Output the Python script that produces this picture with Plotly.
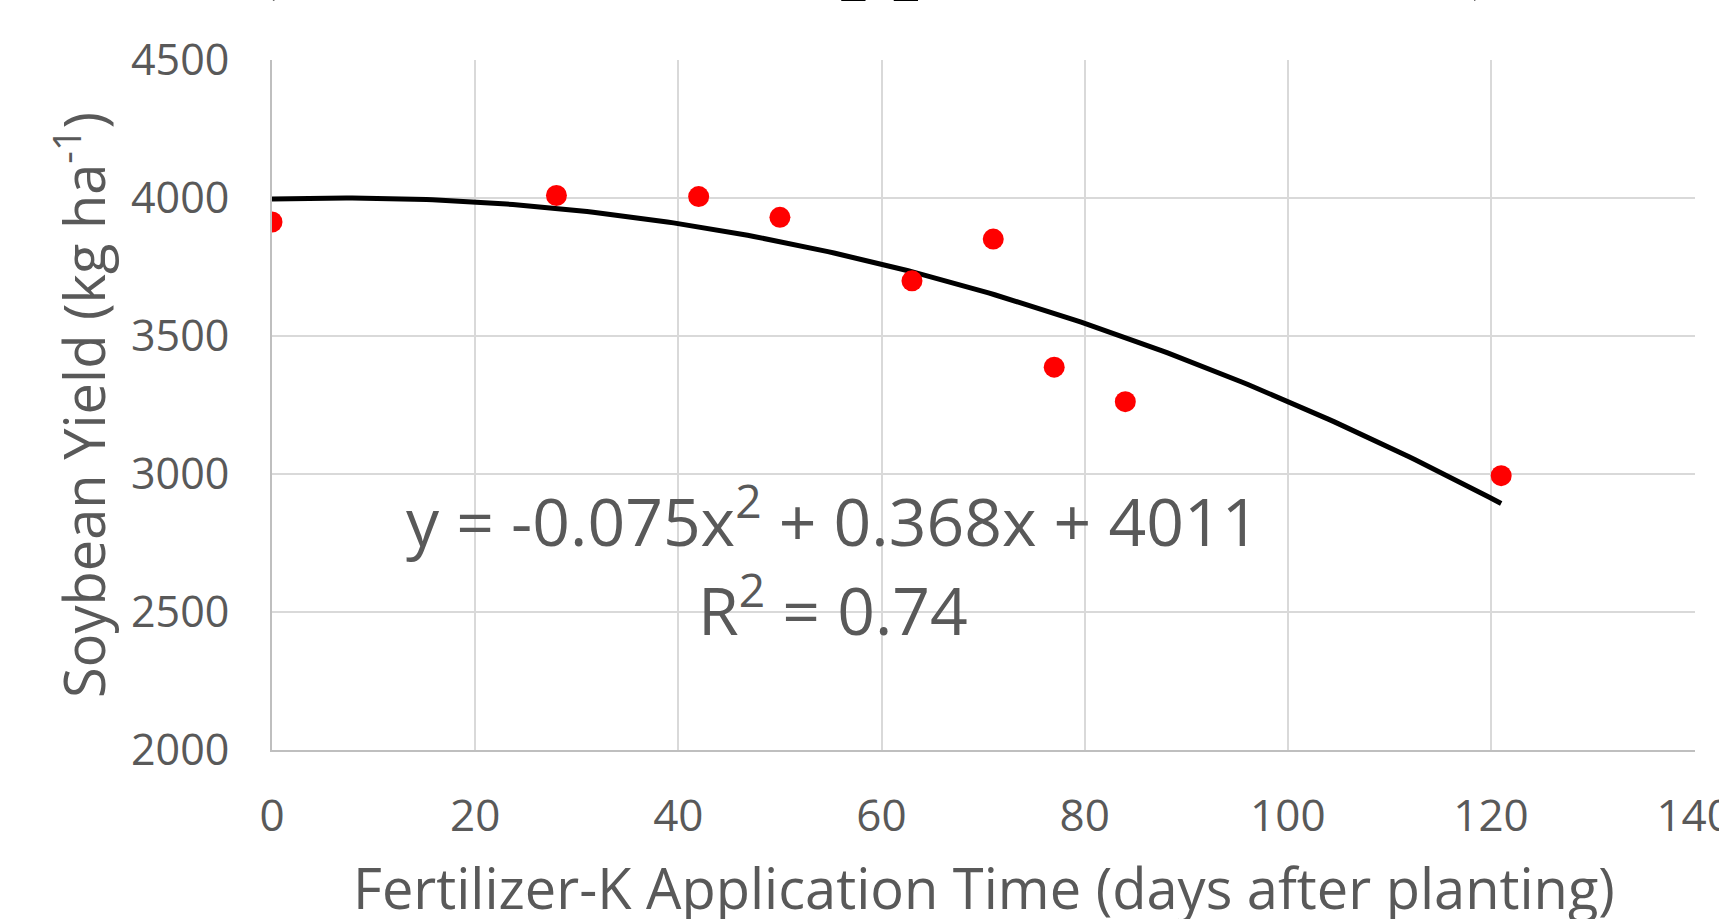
import numpy as np
import plotly.graph_objects as go

# Data
days = [0, 28, 42, 50, 63, 71, 77, 84, 121]
yield_kg = [3913, 4009, 4005, 3930, 3700, 3851, 3387, 3262, 2994]

x_ticks = [0, 20, 40, 60, 80, 100, 120, 140]
y_ticks = [2000, 2500, 3000, 3500, 4000, 4500]

equation_text = "y = -0.075x<sup>2</sup> + 0.368x + 4011"
r2_text = "R<sup>2</sup> = 0.74"
x_title = "Fertilizer-K Application Time (days after planting)"
y_title = "Soybean Yield (kg ha<sup>-1</sup>)"
top_title = "<b>(Fertilizer-K Application Time)</b>"

# Polynomial (order 2) trendline, as in the source chart
coef = np.polyfit(days, yield_kg, 2)
xt = np.linspace(min(days), max(days), 200)
yt = np.polyval(coef, xt)

FONT = "Open Sans"
GREY = "#595959"

fig = go.Figure()
fig.add_trace(go.Scatter(x=xt, y=yt, mode="lines",
                         line=dict(color="black", width=5), hoverinfo="skip",
                         showlegend=False))
fig.add_trace(go.Scatter(x=days, y=yield_kg, mode="markers",
                         marker=dict(color="#ff0000", size=21, line=dict(width=0)),
                         showlegend=False))

fig.update_layout(
    width=1719, height=919,
    margin=dict(l=272, r=24, t=60, b=169, autoexpand=False),
    paper_bgcolor="white", plot_bgcolor="white",
    font=dict(family=FONT, color=GREY),
)
fig.update_xaxes(range=[0, 140.08], tickvals=x_ticks, showgrid=True,
                 gridcolor="#d9d9d9", gridwidth=2, zeroline=False,
                 showline=True, linecolor="#bfbfbf", linewidth=2,
                 ticks="", ticklabelstandoff=26, ticklabeloverflow="allow",
                 automargin=False,
                 tickfont=dict(family=FONT, size=44, color=GREY))
fig.update_yaxes(range=[2000, 4500], tickvals=y_ticks, showgrid=True,
                 gridcolor="#d9d9d9", gridwidth=2, zeroline=False,
                 showline=True, linecolor="#bfbfbf", linewidth=2,
                 ticks="", ticklabelstandoff=32, ticklabeloverflow="allow",
                 automargin=False,
                 tickfont=dict(family=FONT, size=43, color=GREY))

annos = [
    dict(text=x_title, xref="paper", yref="paper", x=0.5, y=-0.199,
         xanchor="center", yanchor="middle", showarrow=False,
         font=dict(family=FONT, size=56, color=GREY)),
    dict(text=y_title, xref="paper", yref="paper", x=(80 - 272) / 1423, y=0.5,
         xanchor="center", yanchor="middle", textangle=-90, showarrow=False,
         font=dict(family=FONT, size=56, color=GREY)),
    dict(text=equation_text, xref="paper", yref="paper", x=(832 - 272) / 1423,
         y=(750 - 517) / 690, xanchor="center", yanchor="middle", showarrow=False,
         font=dict(family=FONT, size=66, color=GREY)),
    dict(text=r2_text, xref="paper", yref="paper", x=(833 - 272) / 1423,
         y=(750 - 606) / 690, xanchor="center", yanchor="middle", showarrow=False,
         font=dict(family=FONT, size=66, color=GREY)),
    dict(text=top_title, xref="paper", yref="paper", x=(874 - 272) / 1423,
         y=1 + 57 / 690, xanchor="center", yanchor="bottom", showarrow=False,
         font=dict(family="Liberation Serif", size=94, color="black")),
]
fig.update_layout(annotations=annos)

fig.write_html("out.html", config={"displayModeBar": False},
               post_script="document.body.style.margin='0';document.body.style.overflow='hidden';")
